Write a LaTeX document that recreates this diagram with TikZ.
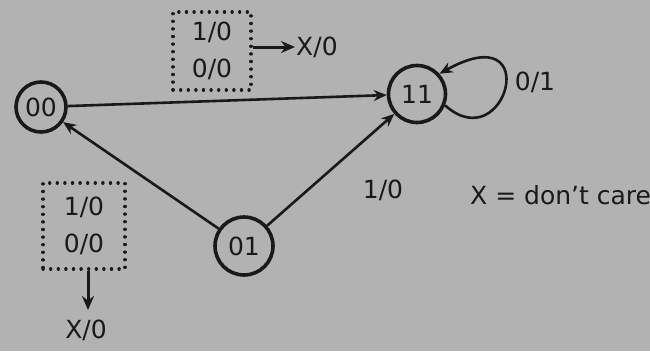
\documentclass[tikz,border=0pt]{standalone}
\usepackage{fontspec}
\setmainfont{DejaVu Sans}
\usetikzlibrary{arrows.meta}
\definecolor{paper}{RGB}{178,178,178}
\definecolor{ink}{RGB}{25,25,25}
\begin{document}
\begin{tikzpicture}[x=1pt,y=-1pt,
  state/.style={draw=ink,circle,line width=3.6pt,minimum size=50pt,inner sep=0pt,font=\fontsize{25}{28}\selectfont,text=ink},
  conn/.style={draw=ink,line width=2.6pt,-{Stealth[length=13pt,width=11pt]}},
  sideconn/.style={draw=ink,line width=3pt,-{Stealth[length=14pt,width=12pt]}},
  dotbox/.style={draw=ink,line width=3.2pt,line cap=round,dash pattern=on 0.2pt off 7.4pt,minimum width=78pt,minimum height=78pt,align=center,font=\fontsize{25}{37}\selectfont,text=ink,inner sep=0pt},
  lbl/.style={font=\fontsize{25}{28}\selectfont,text=ink,inner sep=1pt}]
\fill[paper] (0,0) rectangle (650,351);
\clip (0,0) rectangle (650,351);
\node[state] (s00) at (41,107) {00};
\node[state,minimum size=57pt] (s11) at (417,94) {11};
\node[state,minimum size=58pt] (s01) at (244,246) {01};
\draw[conn] (s00) -- (s11);
\draw[conn] (s01) -- (s00);
\draw[conn] (s01) -- (s11);
\draw[conn] (s11.-22) .. controls (506,160) and (545,15) .. (s11.42);
\node[lbl] (l01) at (535,82) {0/1};
\node[lbl] (l10) at (383,190) {1/0};
\node[dotbox] (topbox) at (212,51) {1/0\\0/0};
\node[lbl,anchor=west] (topx) at (295,47) {X/0};
\draw[sideconn] (topbox.east |- topx.west) -- (topx.west);
\node[dotbox,minimum width=82pt,minimum height=86pt] (botbox) at (84,226) {1/0\\0/0};
\node[lbl] (botx) at (86,330) {X/0};
\draw[sideconn] (botbox.south -| 88,0) -- (88,310);
\node[lbl,anchor=west] (note) at (469,195) {X = don't care};
\end{tikzpicture}
\end{document}
